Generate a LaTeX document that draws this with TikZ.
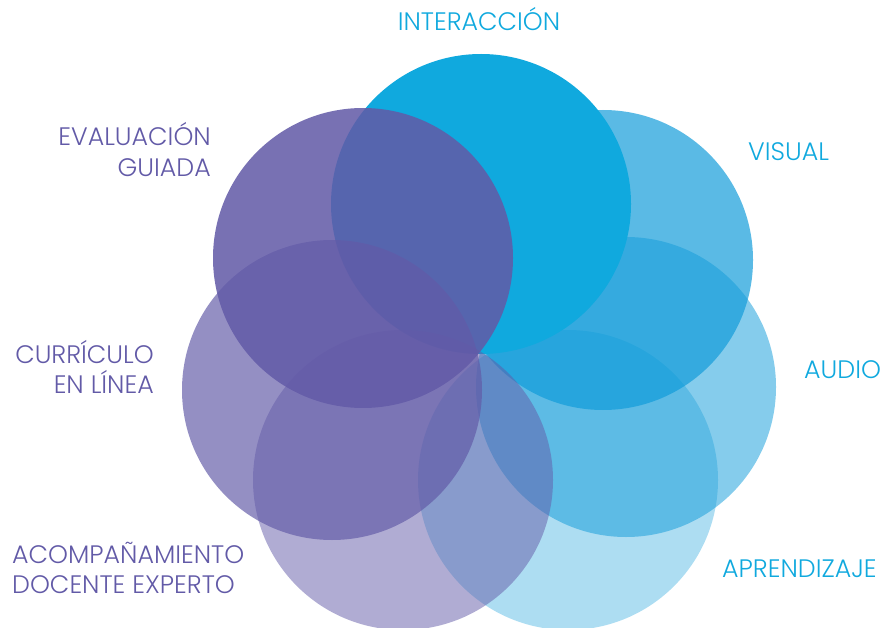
\documentclass[tikz,border=0pt]{standalone}
\usepackage{fontspec}
\setmainfont{Poppins}[UprightFont=* Light]
\definecolor{cblue}{RGB}{16,169,222}
\definecolor{cblueb}{RGB}{16,155,217}
\definecolor{cpurp}{RGB}{98,90,167}
\begin{document}
\begin{tikzpicture}[x=1pt,y=-1pt,
  circ/.style={circle, minimum size=300pt, inner sep=0pt, draw=none},
  bcirc/.style={circ, fill=cblueb, fill opacity=#1},
  pcirc/.style={circ, fill=cpurp, fill opacity=#1},
  lbl/.style={inner sep=0pt, font=\fontsize{25.3}{29}\selectfont},
  lblb/.style={lbl, text=cblue},
  lblp/.style={lbl, text=cpurp}]
\useasboundingbox (0,0) rectangle (885,628);
% blue circles
\node[bcirc=0.34] (apr) at (568,480) {};
\node[bcirc=0.51] (aud) at (626,387) {};
\node[bcirc=0.69] (vis) at (603,260) {};
\node[circ, fill=cblue] (int) at (481,204) {};
% purple circles
\node[pcirc=0.5]  (aco) at (403,480) {};
\node[pcirc=0.68] (cur) at (332,390) {};
\node[pcirc=0.86] (eva) at (363,258) {};
% labels
\node[lblb, anchor=base] (tint) at (479,31) {INTERACCIÓN};
\node[lblb, anchor=base west] (tvis) at (748,161) {VISUAL};
\node[lblb, anchor=base west] (taud) at (804,378) {AUDIO};
\node[lblb, anchor=base west] (tapr) at (722,577) {APRENDIZAJE};
\node[lblp, anchor=base east] (teva1) at (211,146) {EVALUACIÓN};
\node[lblp, anchor=base east] (teva2) at (211,177) {GUIADA};
\node[lblp, anchor=base east] (tcur1) at (154,363) {CURRÍCULO};
\node[lblp, anchor=base east] (tcur2) at (154,393) {EN LÍNEA};
\node[lblp, anchor=base west] (taco1) at (12,563) {ACOMPAÑAMIENTO};
\node[lblp, anchor=base west] (taco2) at (12,593) {DOCENTE EXPERTO};
\end{tikzpicture}
\end{document}
